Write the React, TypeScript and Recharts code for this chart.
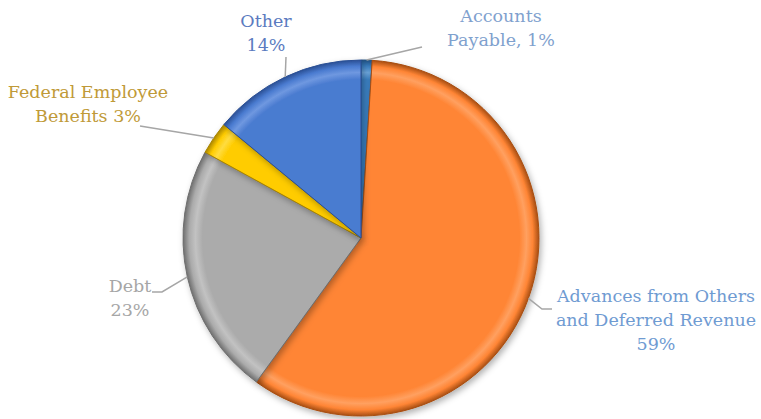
import React from "react";
import { PieChart, Pie, Cell } from "recharts";

const categories = [
  "Accounts Payable",
  "Advances from Others and Deferred Revenue",
  "Debt",
  "Federal Employee Benefits",
  "Other",
];
const shares = [1, 59, 23, 3, 14];
const labelLines = [
  ["Accounts", "Payable, 1%"],
  ["Advances from Others", "and Deferred Revenue", "59%"],
  ["Debt", "23%"],
  ["Federal Employee", "Benefits 3%"],
  ["Other", "14%"],
];

const sliceColors = ["#3B80C2", "#FF8535", "#ABABAB", "#FFCC00", "#4A7BD0"];
const sliceEdge = ["#1F4F80", "#A84E12", "#6E6E6E", "#A98500", "#2A4F94"];
const sliceLight = ["#6CA6DC", "#FFA060", "#C2C2C2", "#FFDC40", "#6F98E0"];
const textColors = ["#7FA1CE", "#6F9BD2", "#A6A6A6", "#BF9A38", "#5B7BC0"];

// label layout relative to pie center: text center, first baseline, leader path points
const labelLayout = [
  { tx: 140, ty: -216, pts: [[61, -191]] },
  { tx: 295, ty: 64, pts: [[181, 71], [191, 71]] },
  { tx: -231, ty: 54, pts: [[-199, 54], [-209, 54]] },
  { tx: -273, ty: -140, pts: [[-221, -112]] },
  { tx: -95, ty: -211, pts: [[-75, -181]] },
];

const data = categories.map((name, i) => ({ name, value: shares[i] }));

const CX = 361;
const CY = 238;
const R = 178;
const RAD = Math.PI / 180;

const renderLabel = (props: any) => {
  const { cx, cy, midAngle, outerRadius, index } = props;
  const lay = labelLayout[index];
  const sx = cx + outerRadius * Math.cos(-midAngle * RAD);
  const sy = cy + outerRadius * Math.sin(-midAngle * RAD);
  const path = [[sx, sy], ...lay.pts.map(([x, y]) => [cx + x, cy + y])];
  const d = path.map((p, k) => `${k === 0 ? "M" : "L"}${p[0]},${p[1]}`).join(" ");
  return (
    <g key={`lbl-${index}`}>
      <path d={d} stroke="#A6A6A6" strokeWidth={1.5} fill="none" />
      <text
        x={cx + lay.tx}
        y={cy + lay.ty}
        textAnchor="middle"
        fill={textColors[index]}
        fontFamily="'DejaVu Serif', serif"
        fontSize={17.5}
      >
        {labelLines[index].map((ln, k) => (
          <tspan key={k} x={cx + lay.tx} dy={k === 0 ? 0 : 24}>
            {ln}
          </tspan>
        ))}
      </text>
    </g>
  );
};

export default function App() {
  return (
    <div style={{ position: "absolute", left: 0, top: 0, width: 761, height: 419, background: "#fff" }}>
      <PieChart width={761} height={419} margin={{ top: 0, right: 0, bottom: 0, left: 0 }}>
        <defs>
          {sliceColors.map((c, i) => (
            <radialGradient
              key={i}
              id={`bev${i}`}
              gradientUnits="userSpaceOnUse"
              cx={CX}
              cy={CY}
              r={R}
            >
              <stop offset="0%" stopColor={c} />
              <stop offset="89%" stopColor={c} />
              <stop offset="93%" stopColor={sliceLight[i]} />
              <stop offset="96.5%" stopColor={c} />
              <stop offset="100%" stopColor={sliceEdge[i]} />
            </radialGradient>
          ))}
          <filter id="shadow" x="-20%" y="-20%" width="140%" height="140%">
            <feDropShadow dx="2" dy="3" stdDeviation="3" floodColor="#000" floodOpacity="0.3" />
          </filter>
        </defs>
        <Pie
          data={data}
          dataKey="value"
          nameKey="name"
          cx={CX}
          cy={CY}
          outerRadius={R}
          startAngle={90}
          endAngle={-270}
          isAnimationActive={false}
          label={renderLabel}
          labelLine={false}
          style={{ filter: "url(#shadow)" }}
        >
          {data.map((_, i) => (
            <Cell key={i} fill={`url(#bev${i})`} stroke={sliceEdge[i]} strokeWidth={1} />
          ))}
        </Pie>
      </PieChart>
    </div>
  );
}
